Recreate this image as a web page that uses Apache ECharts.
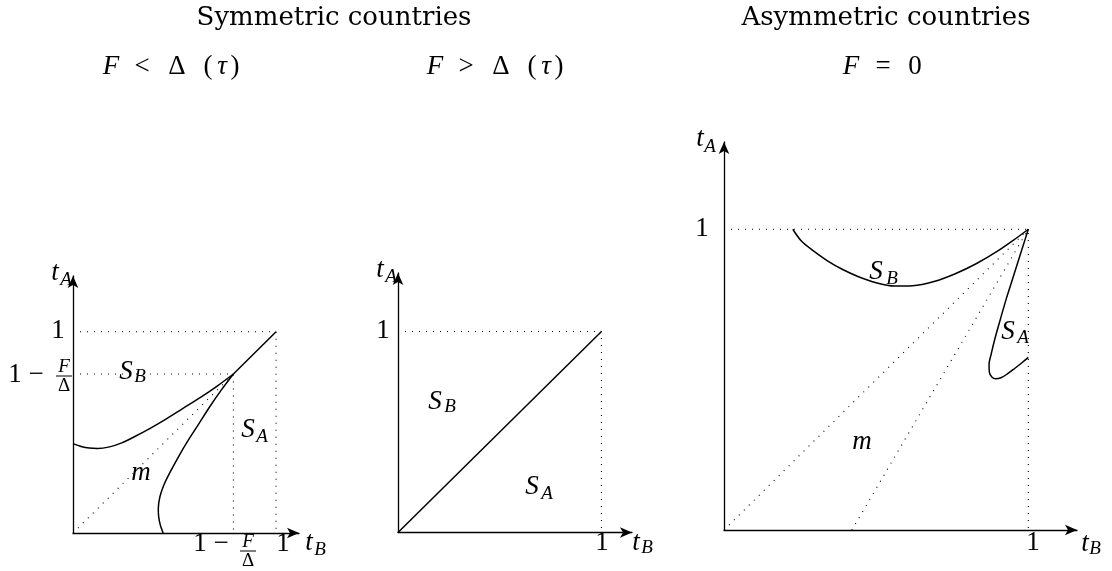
<!DOCTYPE html>
<html>
<head>
<meta charset="utf-8">
<script src="https://cdn.jsdelivr.net/npm/echarts@6/dist/echarts.min.js"></script>
<style>
  html, body { margin: 0; padding: 0; background: #fff; }
  #chart { width: 1112px; height: 571px; }
</style>
</head>
<body>
<div id="chart"></div>
<script>
// panel 1 : symmetric, F < Delta(tau)
var p1CurveB = [[0, 0.444], [0.04, 0.43], [0.08, 0.422], [0.12, 0.42], [0.18, 0.428], [0.24, 0.448], [0.3, 0.477], [0.38, 0.52], [0.46, 0.567], [0.54, 0.618], [0.63, 0.675], [0.71, 0.73], [0.79, 0.79]];
var p1CurveA = [[0.444, 0], [0.43, 0.04], [0.422, 0.08], [0.42, 0.12], [0.428, 0.18], [0.448, 0.24], [0.477, 0.3], [0.52, 0.38], [0.567, 0.46], [0.618, 0.54], [0.675, 0.63], [0.73, 0.71], [0.79, 0.79]];
var p1Diag = [[0.79, 0.79], [1, 1]];
var p1Mid = [[0, 0], [0.79, 0.79]];
var p1Box = [[0, 1], [1, 1], [1, 0]];
var p1KinkBox = [[0, 0.79], [0.79, 0.79], [0.79, 0]];

// panel 2 : symmetric, F > Delta(tau)
var p2Diag = [[0, 0], [1, 1]];
var p2Box = [[0, 1], [1, 1], [1, 0]];

// panel 3 : asymmetric, F = 0
var p3CurveB = [[0.226, 1], [0.255, 0.96], [0.294, 0.928], [0.34, 0.895], [0.39, 0.866], [0.44, 0.843], [0.5, 0.822], [0.56, 0.811], [0.62, 0.812], [0.69, 0.826], [0.76, 0.852], [0.83, 0.886], [0.9, 0.928], [0.96, 0.97], [1, 1]];
var p3CurveA = [[1, 1], [0.975, 0.92], [0.95, 0.84], [0.928, 0.77], [0.908, 0.7], [0.89, 0.635], [0.878, 0.585], [0.871, 0.55], [0.872, 0.525], [0.88, 0.509], [0.893, 0.503], [0.91, 0.506], [0.93, 0.518], [0.955, 0.537], [0.98, 0.557], [1, 0.574]];
var p3Box = [[0, 1], [1, 1], [1, 0]];
var p3Ray1 = [[0, 0], [1, 1]];
var p3Ray2 = [[0.42, 0], [1, 1]];

// axis extents (arrow tip) and titles
var axisMaxX = [1.113, 1.15, 1.16];
var axisMaxY = [1.277, 1.291, 1.29];
var titles = ['Symmetric countries', 'Asymmetric countries'];
var oneLabel = '1';
var minusLabel = '1 \u2212';

var SERIF = "'Liberation Serif', 'Times New Roman', serif";
var TITLE_FONT = "'DejaVu Serif', serif";

var grids = [
  { left: 73, top: 276, width: 226, height: 257 },
  { left: 398, top: 273, width: 234, height: 259.5 },
  { left: 724, top: 142, width: 353, height: 388 }
];

function axis(max) {
  return {
    type: 'value',
    min: 0,
    max: max,
    axisLine: {
      show: true,
      symbol: ['none', 'arrow'],
      symbolSize: [8, 12],
      lineStyle: { color: '#000', width: 1.3 }
    },
    axisTick: { show: false },
    axisLabel: { show: false },
    splitLine: { show: false }
  };
}

function curve(idx, data, smooth) {
  return {
    type: 'line', xAxisIndex: idx, yAxisIndex: idx, data: data,
    smooth: smooth, symbol: 'none', showSymbol: false, silent: true, clip: false,
    lineStyle: { color: '#000', width: 1.5 }
  };
}

function dots(idx, data) {
  return {
    type: 'line', xAxisIndex: idx, yAxisIndex: idx, data: data,
    symbol: 'none', showSymbol: false, silent: true, clip: false,
    lineStyle: { color: '#000', width: 1.1, type: [1, 6] }
  };
}

function txt(str, x, y, size, italic, family) {
  return {
    type: 'text', x: x, y: y, silent: true, z: 10,
    style: {
      text: str, fill: '#000', fontSize: size,
      fontFamily: family || SERIF, fontStyle: italic ? 'italic' : 'normal',
      align: 'center', verticalAlign: 'middle'
    }
  };
}

// symbol with subscript: main glyph centre, then subscript centre
function sub(main, s, x, y, sx, sy) {
  return [txt(main, x, y, 27, true), txt(s, sx, sy, 19, true)];
}

function frac(x, y) {
  return [
    txt('F', x, y - 9, 19, true),
    { type: 'line', silent: true, z: 10, shape: { x1: x - 8, y1: y, x2: x + 8, y2: y }, style: { stroke: '#000', lineWidth: 1 } },
    txt('\u0394', x, y + 10, 19, false)
  ];
}

var g = [];
// titles
g.push(txt(titles[0], 334, 18, 26, false, TITLE_FONT));
g.push(txt(titles[1], 886, 18, 26, false, TITLE_FONT));
// conditions
g.push(txt('F', 111, 67, 27, true), txt('<', 142, 67, 27, false), txt('\u0394', 177, 67, 27, false),
  txt('(', 208, 67, 27, false), txt('\u03c4', 222, 67, 27, true), txt(')', 235, 67, 27, false));
g.push(txt('F', 435, 67, 27, true), txt('>', 466, 67, 27, false), txt('\u0394', 501, 67, 27, false),
  txt('(', 532, 67, 27, false), txt('\u03c4', 546, 67, 27, true), txt(')', 559, 67, 27, false));
g.push(txt('F', 851, 67, 27, true), txt('=', 883, 67, 27, false), txt('0', 915, 67, 27, false));

// panel 1 labels
g = g.concat(sub('t', 'A', 55, 273, 66, 280));
g.push(txt(oneLabel, 58, 331, 27, false));
g.push(txt(minusLabel, 26, 375, 27, false));
g = g.concat(frac(64, 376));
g.push(txt(minusLabel, 211, 544, 27, false));
g = g.concat(frac(248, 551));
g.push(txt(oneLabel, 283, 544, 27, false));
g = g.concat(sub('t', 'B', 309, 543, 320, 550));
g = g.concat(sub('S', 'B', 126, 372, 140, 377));
g = g.concat(sub('S', 'A', 248, 430, 262, 437));
g.push(txt('m', 141, 473, 27, true));

// panel 2 labels
g = g.concat(sub('t', 'A', 380, 270, 391, 277));
g.push(txt(oneLabel, 383, 331, 27, false));
g = g.concat(sub('S', 'B', 435, 402, 450, 407));
g = g.concat(sub('S', 'A', 532, 487, 547, 494));
g.push(txt(oneLabel, 602, 543, 27, false));
g = g.concat(sub('t', 'B', 636, 543, 647, 548));

// panel 3 labels
g = g.concat(sub('t', 'A', 700, 139, 710, 147));
g.push(txt(oneLabel, 702, 229, 27, false));
g.push(txt(oneLabel, 1033, 543, 27, false));
g = g.concat(sub('t', 'B', 1085, 544, 1095, 549));
g = g.concat(sub('S', 'B', 876, 272, 892, 279));
g = g.concat(sub('S', 'A', 1008, 332, 1023, 338));
g.push(txt('m', 862, 442, 27, true));

var myChart = echarts.init(document.getElementById('chart'));
var option = {
  backgroundColor: '#fff',
  animation: false,
  grid: grids.map(function (r) { return Object.assign({ outerBoundsMode: 'none', containLabel: false }, r); }),
  xAxis: axisMaxX.map(function (m, i) { var a = axis(m); a.gridIndex = i; return a; }),
  yAxis: axisMaxY.map(function (m, i) { var a = axis(m); a.gridIndex = i; return a; }),
  series: [
    dots(0, p1Box), dots(0, p1KinkBox), dots(0, p1Mid),
    curve(0, p1CurveB, 0.3), curve(0, p1CurveA, 0.3), curve(0, p1Diag, false),
    dots(1, p2Box), curve(1, p2Diag, false),
    dots(2, p3Box), dots(2, p3Ray1), dots(2, p3Ray2),
    curve(2, p3CurveB, 0.3), curve(2, p3CurveA, 0.3)
  ],
  graphic: g
};
myChart.setOption(option);
</script>
</body>
</html>
